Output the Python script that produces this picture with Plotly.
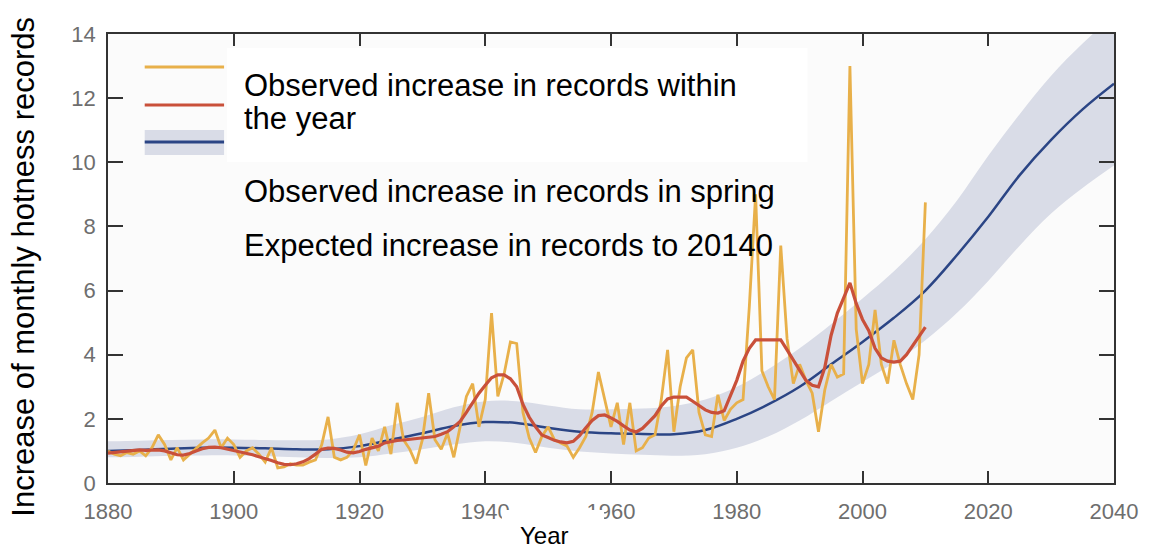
import plotly.graph_objects as go

# Observed yearly increase in monthly heat records (1880-2010)
obs_years = list(range(1880, 2011))
obs_year_values = [
    1.0, 0.9, 0.85, 0.95, 0.9, 1.0, 0.85, 1.1, 1.5, 1.2,          # 1880s
    0.72, 1.1, 0.72, 0.9, 1.1, 1.25, 1.4, 1.65, 1.1, 1.4,         # 1890s
    1.2, 0.8, 1.0, 1.1, 0.9, 0.65, 1.1, 0.47, 0.5, 0.6,           # 1900s
    0.56, 0.56, 0.65, 0.72, 1.2, 2.06, 0.8, 0.72, 0.8, 1.03,      # 1910s
    1.5, 0.55, 1.4, 1.0, 1.75, 0.9, 2.5, 1.35, 1.05, 0.6,         # 1920s
    1.35, 2.8, 1.35, 1.05, 1.55, 0.8, 1.75, 2.7, 3.1, 1.75,       # 1930s
    2.6, 5.3, 2.7, 3.4, 4.4, 4.35, 2.2, 1.4, 0.95, 1.45,          # 1940s
    1.75, 1.35, 1.25, 1.15, 0.8, 1.1, 1.45, 2.2, 3.46, 2.6,       # 1950s
    1.75, 2.5, 1.2, 2.5, 1.0, 1.1, 1.4, 1.5, 2.6, 4.15,           # 1960s
    1.6, 3.0, 3.9, 4.15, 2.2, 1.5, 1.45, 2.75, 1.95, 2.3,         # 1970s
    2.5, 2.6, 5.5, 9.0, 3.5, 3.0, 2.6, 7.4, 4.5, 3.1,             # 1980s
    3.7, 3.2, 2.8, 1.6, 2.9, 3.7, 3.3, 3.4, 13.0, 4.8,            # 1990s
    3.1, 3.7, 5.4, 3.7, 3.1, 4.45, 3.7, 3.1, 2.6, 4.0,            # 2000s
    8.75,                                                         # 2010
]

# Observed increase in spring records (smoothed)
obs_spring_values = [
    0.93, 0.95, 0.98, 1.0, 1.02, 1.03, 1.02, 1.03, 1.03, 1.0,
    0.93, 0.88, 0.87, 0.92, 1.0, 1.07, 1.11, 1.12, 1.1, 1.06,
    1.0, 0.97, 0.93, 0.88, 0.82, 0.77, 0.7, 0.63, 0.58, 0.57,
    0.6, 0.66, 0.76, 0.9, 1.05, 1.09, 1.08, 1.03, 0.96, 0.94,
    0.98, 1.05, 1.1, 1.15, 1.25, 1.3, 1.33, 1.34, 1.36, 1.4,
    1.42, 1.43, 1.45, 1.52, 1.6, 1.75, 1.92, 2.2, 2.5, 2.8,
    3.05, 3.28, 3.37, 3.37, 3.25, 3.0, 2.45, 2.05, 1.75, 1.5,
    1.42, 1.33, 1.28, 1.25, 1.3, 1.48, 1.72, 1.95, 2.1, 2.12,
    2.03, 1.92, 1.78, 1.65, 1.59, 1.7, 1.9, 2.1, 2.4, 2.62,
    2.68, 2.68, 2.68, 2.55, 2.4, 2.28, 2.2, 2.18, 2.25, 2.75,
    3.2, 3.8, 4.2, 4.46, 4.46, 4.46, 4.46, 4.46, 4.15, 3.84,
    3.5, 3.2, 3.05, 3.0, 3.6, 4.6, 5.3, 5.8, 6.24, 5.6,
    5.1, 4.75, 4.2, 3.9, 3.8, 3.77, 3.8, 4.0, 4.3, 4.6,
    4.86,
]

# Expected increase in records with uncertainty band (1880-2040, 5-year steps)
exp_years = list(range(1880, 2041, 5))
exp_values = [
    1.0, 1.03, 1.07, 1.1, 1.1, 1.08, 1.05, 1.05, 1.15, 1.35,
    1.55, 1.78, 1.9, 1.87, 1.72, 1.6, 1.55, 1.53, 1.52, 1.65,
    2.0, 2.45, 3.0, 3.7, 4.4, 5.15, 6.0, 7.1, 8.3, 9.6,
    10.7, 11.65, 12.45,
]
exp_low = [
    0.8, 0.82, 0.85, 0.86, 0.86, 0.84, 0.8, 0.78, 0.8, 0.92,
    1.05, 1.2, 1.3, 1.25, 1.1, 0.98, 0.92, 0.88, 0.85, 0.9,
    1.1, 1.45, 1.95, 2.55, 3.15, 3.75, 4.45, 5.3, 6.3, 7.4,
    8.4, 9.2, 9.9,
]
exp_high = [
    1.3, 1.32, 1.34, 1.36, 1.36, 1.34, 1.33, 1.36, 1.52, 1.8,
    2.06, 2.36, 2.55, 2.55, 2.42, 2.3, 2.3, 2.32, 2.4, 2.6,
    3.0, 3.55, 4.2, 4.95, 5.75, 6.6, 7.6, 8.8, 10.2, 11.5,
    12.7, 13.7, 14.6,
]

x_ticks = list(range(1880, 2041, 20))
y_ticks = list(range(0, 15, 2))

label_year_1 = "Observed increase in records within"
label_year_2 = "the year"
label_spring = "Observed increase in records in spring"
label_expected = "Expected increase in records to 20140"

YELLOW = "#E8B04A"
RED = "#C9503A"
BLUE = "#2B4585"
BAND = "#D9DCE7"

fig = go.Figure()

# uncertainty band
fig.add_trace(go.Scatter(x=exp_years, y=exp_low, mode="lines",
                         line=dict(width=0, shape="spline"), hoverinfo="skip",
                         showlegend=False))
fig.add_trace(go.Scatter(x=exp_years, y=exp_high, mode="lines",
                         line=dict(width=0, shape="spline"), fill="tonexty",
                         fillcolor=BAND, hoverinfo="skip", showlegend=False))
fig.add_trace(go.Scatter(x=exp_years, y=exp_values, mode="lines",
                         line=dict(color=BLUE, width=2.5, shape="spline"),
                         showlegend=False))
fig.add_trace(go.Scatter(x=obs_years, y=obs_year_values, mode="lines",
                         line=dict(color=YELLOW, width=2.8),
                         showlegend=False))
fig.add_trace(go.Scatter(x=obs_years, y=obs_spring_values, mode="lines",
                         line=dict(color=RED, width=3.2),
                         showlegend=False))

# plot area in pixels: x 108..1122, y 34..483
W, H = 1150, 549
L, R, T, B = 108, 28, 34, 66
PW, PH = W - L - R, H - T - B


def px(x):
    return (x - L) / PW


def py(y):
    return (H - B - y) / PH


shapes = []
# key swatches at the top-left of the plot
shapes.append(dict(type="rect", xref="paper", yref="paper",
                   x0=px(145), x1=px(225), y0=py(155), y1=py(130),
                   fillcolor=BAND, line=dict(width=0), layer="above"))
for yk, col in ((67, YELLOW), (105, RED), (142, BLUE)):
    shapes.append(dict(type="line", xref="paper", yref="paper",
                       x0=px(145), x1=px(225), y0=py(yk), y1=py(yk),
                       line=dict(color=col, width=2.8), layer="above"))
# white panel behind the key text
shapes.append(dict(type="rect", xref="paper", yref="paper",
                   x0=px(228), x1=px(813), y0=py(162), y1=py(48),
                   fillcolor="white", line=dict(width=0), layer="above"))
# white panel behind the x axis title
shapes.append(dict(type="rect", xref="paper", yref="paper",
                   x0=px(505), x1=px(608), y0=py(549), y1=py(510),
                   fillcolor="white", line=dict(width=0), layer="above"))

FAMILY = "Liberation Sans, Arial, sans-serif"
TXT = dict(family=FAMILY, size=31, color="black")


def note(text, x, y, **kw):
    return dict(text=text, xref="paper", yref="paper", x=px(x), y=py(y),
                xanchor=kw.get("xanchor", "left"), yanchor="middle",
                showarrow=False, font=kw.get("font", TXT),
                textangle=kw.get("textangle", 0))


annotations = [
    note(label_year_1, 243, 85),
    note(label_year_2, 243, 118),
    note(label_spring, 243, 192),
    note(label_expected, 243, 245),
    note("Year", 548, 535, xanchor="center",
         font=dict(family=FAMILY, size=24, color="black")),
    note("Increase of monthly hotness records", 22, 267, xanchor="center",
         textangle=-90, font=dict(family=FAMILY, size=31, color="black")),
]

TICKFONT = dict(family=FAMILY, size=22, color="#6e6e6e")

fig.update_layout(
    width=W, height=H,
    margin=dict(l=L, r=R, t=T, b=B),
    paper_bgcolor="white", plot_bgcolor="#fbfbfb",
    shapes=shapes, annotations=annotations,
    showlegend=False,
    xaxis=dict(range=[1880, 2040], tickvals=x_ticks, ticks="inside",
               ticklen=12, tickwidth=1.5, tickcolor="#333",
               showline=True, linecolor="#333", linewidth=1.5,
               mirror="ticks", showgrid=False, zeroline=False,
               tickfont=TICKFONT, ticklabelstandoff=8),
    yaxis=dict(range=[0, 14], tickvals=y_ticks, ticks="inside",
               ticklen=15, tickwidth=1.5, tickcolor="#333",
               showline=True, linecolor="#333", linewidth=1.5,
               mirror="ticks", showgrid=False, zeroline=False,
               tickfont=TICKFONT, ticklabelstandoff=6),
)

fig.write_html("out.html")
